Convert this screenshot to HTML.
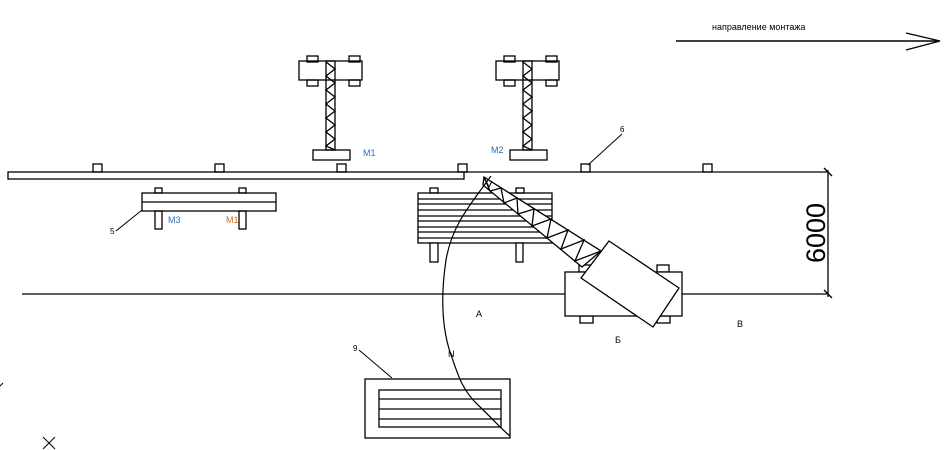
<!DOCTYPE html>
<html><head><meta charset="utf-8"><style>
html,body{margin:0;padding:0;background:#fff;width:947px;height:450px;overflow:hidden}
svg{display:block}
text{font-family:"Liberation Sans",sans-serif}
</style></head><body>
<svg width="947" height="450" viewBox="0 0 947 450" xmlns="http://www.w3.org/2000/svg" fill="none" stroke="#000" stroke-width="1.3">
<!-- direction arrow -->
<text x="712" y="30" font-size="9" fill="#000" stroke="none">направление монтажа</text>
<line x1="676" y1="41" x2="938" y2="41" stroke-width="1.6"/>
<polyline points="906,33 940,41 906,50"/>

<!-- mast M1 -->
<rect x="307" y="56" width="11" height="6"/><rect x="349" y="56" width="11" height="6"/>
<rect x="307" y="80" width="11" height="6"/><rect x="349" y="80" width="11" height="6"/>
<rect x="299" y="61" width="63" height="19"/>
<rect x="326" y="61" width="9" height="89"/>
<polyline points="326,62 335,69 326,76 335,83 326,90 335,97 326,104 335,111 326,118 335,125 326,132 335,139 326,146 335,150"/>
<rect x="313" y="150" width="37" height="10"/>
<text x="363" y="156" font-size="9" fill="#2a6fb0" stroke="none">М1</text>

<!-- mast M2 -->
<rect x="504" y="56" width="11" height="6"/><rect x="546" y="56" width="11" height="6"/>
<rect x="504" y="80" width="11" height="6"/><rect x="546" y="80" width="11" height="6"/>
<rect x="496" y="61" width="63" height="19"/>
<rect x="523" y="61" width="9" height="89"/>
<polyline points="523,62 532,69 523,76 532,83 523,90 532,97 523,104 532,111 523,118 532,125 523,132 532,139 523,146 532,150"/>
<rect x="510" y="150" width="37" height="10"/>
<text x="491" y="153" font-size="9" fill="#2a6fb0" stroke="none">М2</text>

<!-- rail -->
<rect x="8" y="172" width="456" height="7"/>
<line x1="464" y1="172" x2="827" y2="172"/>
<rect x="93" y="164" width="9" height="8"/><rect x="215" y="164" width="9" height="8"/>
<rect x="337" y="164" width="9" height="8"/><rect x="458" y="164" width="9" height="8"/>
<rect x="581" y="164" width="9" height="8"/><rect x="703" y="164" width="9" height="8"/>
<text x="620" y="132" font-size="8" fill="#000" stroke="none">6</text>
<line x1="622" y1="134" x2="588" y2="165" stroke-width="1"/>

<line x1="22" y1="294" x2="827" y2="294"/>
<!-- dimension -->
<line x1="828" y1="170" x2="828" y2="297"/>
<line x1="824" y1="168" x2="832" y2="176"/><line x1="824" y1="290" x2="832" y2="298"/>
<text transform="translate(825,233) rotate(-90)" font-size="27" text-anchor="middle" fill="#000" stroke="none">6000</text>

<!-- left bench -->
<rect x="155" y="188" width="7" height="5"/><rect x="239" y="188" width="7" height="5"/>
<rect x="142" y="193" width="134" height="18"/>
<line x1="142" y1="202" x2="276" y2="202"/>
<rect x="155" y="211" width="7" height="18"/><rect x="239" y="211" width="7" height="18"/>
<text x="168" y="223" font-size="9" fill="#2a6fb0" stroke="none">М3</text>
<text x="226" y="223" font-size="9" fill="#c86a1a" stroke="none">М1</text>
<text x="110" y="234" font-size="8" fill="#000" stroke="none">5</text>
<line x1="116" y1="231" x2="142" y2="210" stroke-width="1"/>

<!-- center bench -->
<rect x="430" y="188" width="8" height="5"/><rect x="516" y="188" width="8" height="5"/>
<rect x="418" y="193" width="134" height="50"/>
<line x1="418" y1="199" x2="552" y2="199"/><line x1="418" y1="204" x2="552" y2="204"/>
<line x1="418" y1="210" x2="552" y2="210"/><line x1="418" y1="216" x2="552" y2="216"/>
<line x1="418" y1="221" x2="552" y2="221"/><line x1="418" y1="227" x2="552" y2="227"/>
<line x1="418" y1="232" x2="552" y2="232"/><line x1="418" y1="238" x2="552" y2="238"/>
<rect x="430" y="243" width="8" height="19" fill="#fff"/><rect x="516" y="243" width="7" height="19" fill="#fff"/>

<!-- crane truck -->
<rect x="579" y="265" width="13" height="7"/><rect x="657" y="265" width="12" height="7"/>
<rect x="580" y="316" width="13" height="7"/><rect x="657" y="316" width="13" height="7"/>
<rect x="565" y="272" width="117" height="44" fill="#fff"/>
<polygon points="609,241 679,288 653,327 581,278" fill="#fff"/>
<!-- boom -->
<polygon points="484,177 601,251 582,267 483,185" fill="#fff"/>
<polyline points="484,177 490,191 501,188 504,203 517,198 518,214 534,209 532,226 551,219 547,238 568,230 561,249 584,240 575,261 601,251"/>
<polyline points="484,177 489,187 492,181" stroke-width="1"/>
<!-- cable -->
<path d="M491,176 C470,205 452,225 446,260 C440,300 443,330 450,352 C458,375 462,390 478,405 C492,418 500,428 510,436" stroke-width="1.2"/>
<text x="448" y="357" font-size="9" fill="#000" stroke="none">N</text>

<text x="476" y="317" font-size="9" fill="#000" stroke="none">А</text>
<text x="615" y="343" font-size="9" fill="#000" stroke="none">Б</text>
<text x="737" y="327" font-size="9" fill="#000" stroke="none">В</text>

<!-- package -->
<rect x="365" y="379" width="145" height="59"/>
<rect x="379" y="390" width="122" height="37"/>
<line x1="379" y1="399" x2="501" y2="399"/><line x1="379" y1="409" x2="501" y2="409"/><line x1="379" y1="419" x2="501" y2="419"/>
<text x="353" y="351" font-size="8" fill="#000" stroke="none">9</text>
<line x1="359" y1="350" x2="392" y2="378" stroke-width="1"/>

<line x1="43" y1="437" x2="55" y2="449" stroke-width="1"/><line x1="55" y1="437" x2="43" y2="449" stroke-width="1"/>
<line x1="0" y1="386" x2="3" y2="383" stroke-width="1"/>
</svg>
</body></html>
